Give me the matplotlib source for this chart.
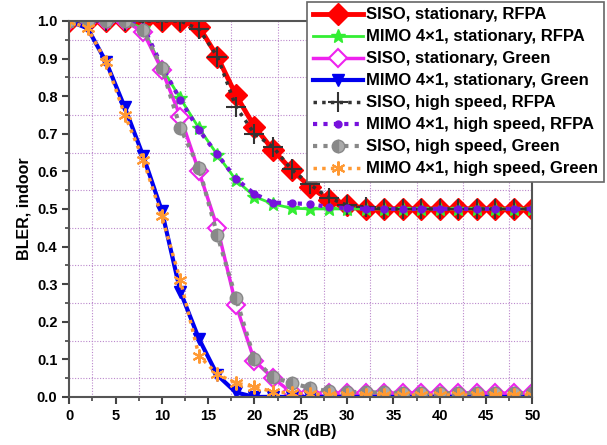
import matplotlib
matplotlib.use("Agg")
import matplotlib.pyplot as plt
import numpy as np
from matplotlib.ticker import MultipleLocator

snr = list(range(0, 51, 2))

siso_stat_rfpa = [1, 1, 1, 1, 1, 1, 1, 0.985, 0.905, 0.803, 0.719, 0.657, 0.604,
                  0.559, 0.524, 0.51, 0.5, 0.5, 0.5, 0.5, 0.5, 0.5, 0.5, 0.5, 0.5, 0.5]
mimo_stat_rfpa = [1, 1, 1, 1, 0.98, 0.875, 0.794, 0.715, 0.644, 0.577, 0.533, 0.513,
                  0.502, 0.5, 0.5, 0.5, 0.5, 0.5, 0.5, 0.5, 0.5, 0.5, 0.5, 0.5, 0.5, 0.5]
siso_stat_green = [1, 1, 1, 1, 0.97, 0.87, 0.745, 0.60, 0.45, 0.245, 0.096, 0.05, 0.012,
                   0.01, 0.01, 0.01, 0.01, 0.01, 0.01, 0.01, 0.01, 0.01, 0.01, 0.01, 0.01, 0.01]
mimo_stat_green = [1, 0.98, 0.89, 0.77, 0.64, 0.495, 0.28, 0.155, 0.058, 0.012, 0, 0, 0,
                   0, 0, 0, 0, 0, 0, 0, 0, 0, 0, 0, 0, 0]
siso_hs_rfpa = [1, 1, 1, 1, 1, 1, 1, 0.978, 0.905, 0.772, 0.70, 0.665, 0.605, 0.565,
                0.53, 0.51, 0.505, 0.5, 0.5, 0.5, 0.5, 0.5, 0.5, 0.5, 0.5, 0.5]
mimo_hs_rfpa = [1, 1, 1, 1, 0.985, 0.88, 0.79, 0.71, 0.645, 0.58, 0.54, 0.517, 0.515,
                0.513, 0.505, 0.502, 0.5, 0.5, 0.5, 0.5, 0.5, 0.5, 0.5, 0.5, 0.5, 0.5]
siso_hs_green = [1, 1, 1, 1, 0.975, 0.875, 0.715, 0.61, 0.43, 0.263, 0.1, 0.052, 0.037,
                 0.024, 0.015, 0.014, 0.012, 0.012, 0.01, 0.01, 0.01, 0.01, 0.01, 0.01, 0.01, 0.01]
mimo_hs_green = [1, 0.98, 0.89, 0.75, 0.63, 0.48, 0.31, 0.11, 0.06, 0.037, 0.027, 0.014,
                 0.01, 0.008, 0.006, 0.006, 0.005, 0.005, 0.005, 0.005, 0.005, 0.005,
                 0.005, 0.005, 0.005, 0.005]

labels = ["SISO, stationary, RFPA", "MIMO 4\u00d71, stationary, RFPA",
          "SISO, stationary, Green", "MIMO 4\u00d71, stationary, Green",
          "SISO, high speed, RFPA", "MIMO 4\u00d71, high speed, RFPA",
          "SISO, high speed, Green", "MIMO 4\u00d71, high speed, Green"]

plt.rcParams["font.family"] = ["Liberation Sans", "DejaVu Sans"]
plt.rcParams["font.weight"] = "bold"

fig = plt.figure(figsize=(6.07, 4.45), dpi=100)
ax = fig.add_axes([0.114, 0.108, 0.763, 0.845])

ax.plot(snr, siso_stat_rfpa, color="#ff0000", lw=3.5, marker="D", ms=11,
        label=labels[0])
ax.plot(snr, mimo_stat_rfpa, color="#33ee33", lw=2, marker="*", ms=10,
        label=labels[1])
ax.plot(snr, siso_stat_green, color="#ee22ee", lw=2.5, marker="D", ms=9,
        mfc="white", mew=1.5, label=labels[2])
ax.plot(snr, mimo_stat_green, color="#0000ee", lw=3, marker="v", ms=9,
        label=labels[3])
ax.plot(snr, siso_hs_rfpa, color="#333333", lw=2.5, ls=(0, (1, 1.5)), marker="+",
        ms=14, mew=1.5, label=labels[4])
ax.plot(snr, mimo_hs_rfpa, color="#7711dd", lw=3, ls=(0, (1, 1.5)), marker="o",
        ms=5, label=labels[5])
ax.plot(snr, siso_hs_green, color="#888888", lw=3, ls=(0, (1, 1.5)), marker="o",
        ms=9, fillstyle="left", mfc="#888888", mfcalt="#aaaaaa", mec="#888888",
        label=labels[6])
ax.plot(snr, mimo_hs_green, color="#ff9933", lw=2.5, ls=(0, (1, 1.5)),
        marker=(6, 2, 0), ms=10, mew=1.5, label=labels[7])

ax.set_xlim(0, 50)
ax.set_ylim(0, 1.0)
ax.xaxis.set_major_locator(MultipleLocator(5))
ax.xaxis.set_minor_locator(MultipleLocator(2.5))
ax.yaxis.set_major_locator(MultipleLocator(0.1))
ax.yaxis.set_minor_locator(MultipleLocator(0.05))
ax.yaxis.set_major_formatter(matplotlib.ticker.FormatStrFormatter("%.1f"))
ax.grid(which="minor", color="#bb88cc", ls=(0, (1, 1.5)), lw=0.8)
ax.grid(which="major", visible=False)
ax.tick_params(which="major", direction="out", length=5, width=1.5,
               color="#444444", labelsize=10.5)
ax.tick_params(which="minor", direction="out", length=3, width=1.2,
               color="#444444")
for sp in ax.spines.values():
    sp.set_color("#555555")
    sp.set_linewidth(1.5)
for lab in ax.get_xticklabels() + ax.get_yticklabels():
    lab.set_fontweight("bold")

ax.set_xlabel("SNR (dB)", fontsize=11.5, fontweight="bold", labelpad=1)
ax.set_ylabel("BLER, indoor", fontsize=11.5, fontweight="bold", labelpad=4)

leg = fig.legend(loc="upper right", bbox_to_anchor=(0.998, 1.0),
                 fontsize=12, handlelength=3.0, handletextpad=0.2,
                 labelspacing=0.42, borderpad=0.35, borderaxespad=0.1,
                 fancybox=False, framealpha=1, edgecolor="#666666")
leg.get_frame().set_linewidth(1.2)
for t in leg.get_texts():
    t.set_fontweight("bold")

fig.savefig("out.png", dpi=100)
